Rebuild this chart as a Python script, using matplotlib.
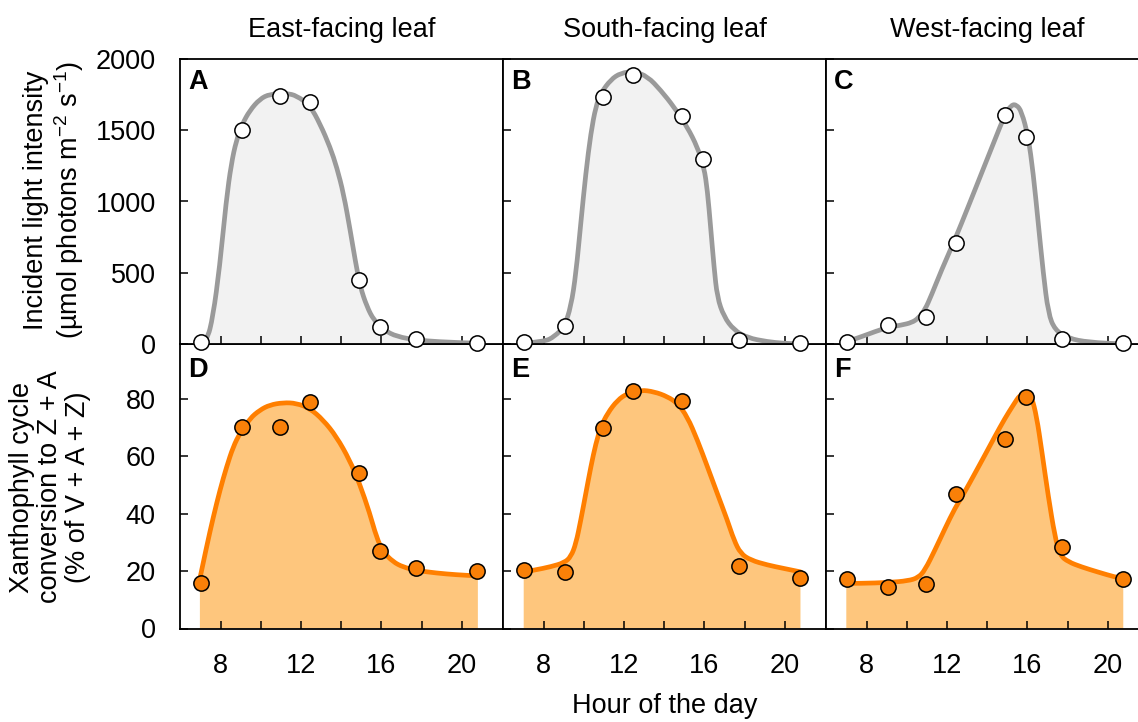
import matplotlib
matplotlib.use('Agg')
import matplotlib.pyplot as plt
from matplotlib.path import Path
from matplotlib.patches import PathPatch
import numpy as np

plt.rcParams['font.family'] = ['Liberation Sans', 'DejaVu Sans']
plt.rcParams['mathtext.fontset'] = 'custom'
plt.rcParams['mathtext.rm'] = 'Liberation Sans'
plt.rcParams['mathtext.it'] = 'Liberation Sans:italic'
plt.rcParams['mathtext.bf'] = 'Liberation Sans:bold'

# Colors
GREY_LINE = '#9a9a9a'
GREY_FILL = '#f2f2f2'
ORANGE_LINE = '#ff7f00'
ORANGE_FILL = '#fec67d'
ORANGE_DOT = '#f98008'

# ---------------- data ----------------
hours = [7.0, 9.08, 10.97, 12.45, 14.9, 15.95, 17.72, 20.78]

light_east = [15, 1505, 1740, 1700, 450, 122, 35, 9]
light_south = [12, 125, 1735, 1885, 1600, 1298, 30, 9]
light_west = [16, 133, 187, 709, 1607, 1455, 33, 9]

xanth_east = [16.0, 70.1, 70.0, 78.9, 54.2, 27.0, 21.2, 19.9]
xanth_south = [20.5, 19.6, 69.8, 82.8, 79.3, np.nan, 21.7, 17.5]
xanth_west = [17.1, 14.6, 15.5, 46.8, 66.1, 80.7, 28.4, 17.1]

# fitted curves
fit_light_east_h = [7.0, 7.32, 7.62, 7.95, 8.28, 8.53, 8.78, 9.08, 9.45, 9.95, 10.45, 11.28,
                    11.78, 12.45, 12.95, 13.45, 13.78, 14.12, 14.45, 14.7, 14.95, 15.28,
                    15.62, 16.12, 16.78, 17.78, 18.78, 20.78]
fit_light_east_v = [0, 20, 192, 538, 1006, 1263, 1427, 1544, 1638, 1719, 1754, 1759,
                    1743, 1673, 1544, 1380, 1240, 1053, 796, 585, 400, 262,
                    168, 98, 51, 28, 16, 5]

fit_light_south_h = [6.97, 8.03, 8.53, 9.03, 9.36, 9.61, 9.85, 10.1, 10.35, 10.6, 10.85, 11.34,
                     11.84, 12.5, 13.17, 13.83, 14.49, 15.15, 15.65, 15.98, 16.15, 16.31,
                     16.48, 16.64, 16.97, 17.47, 18.13, 19.13, 19.95, 20.78]
fit_light_south_v = [5, 16, 51, 122, 262, 497, 848, 1199, 1480, 1668, 1761, 1855,
                     1902, 1913, 1878, 1780, 1663, 1522, 1382, 1241, 1077, 820,
                     539, 328, 192, 98, 44, 16, 5, 0]

fit_light_west_h = [6.99, 7.75, 8.41, 9.08, 9.74, 10.24, 10.57, 10.9, 11.23, 11.73, 12.39,
                    13.06, 13.72, 14.38, 14.88, 15.21, 15.46, 15.71, 16.04, 16.29, 16.54,
                    16.79, 17.04, 17.37, 18.03, 19.03, 20.79]
fit_light_west_v = [16, 51, 87, 117, 133, 150, 180, 239, 344, 520, 731,
                    965, 1199, 1433, 1609, 1679, 1679, 1632, 1456, 1199, 848,
                    497, 215, 98, 40, 12, 0]

fit_xanth_east_h = [6.97, 7.3, 7.64, 7.97, 8.3, 8.63, 8.96, 9.46, 9.95, 10.45, 11.11, 11.77,
                    12.44, 13.1, 13.76, 14.42, 14.91, 15.42, 15.75, 16.08, 16.58, 17.07,
                    17.74, 18.73, 19.72, 20.8]
fit_xanth_east_v = [17.4, 28.4, 38.9, 48.2, 56.3, 63.3, 67.9, 73.1, 76.0, 77.8, 78.6, 78.4,
                    76.6, 72.6, 66.8, 58.6, 50.5, 40.1, 31.9, 26.7, 23.2, 21.4,
                    20.2, 19.3, 18.7, 18.3]

fit_xanth_south_h = [7.01, 7.54, 8.36, 9.03, 9.36, 9.61, 9.85, 10.1, 10.35, 10.6, 10.85, 11.18,
                     11.68, 12.17, 12.83, 13.5, 14.16, 14.66, 15.15, 15.65, 16.15, 16.64,
                     17.14, 17.47, 17.8, 18.3, 19.13, 19.95, 20.78]
fit_xanth_south_v = [19.7, 20.3, 21.5, 22.9, 25.0, 29.6, 37.7, 47.0, 56.3, 64.4, 70.2, 74.9,
                     79.5, 81.8, 83.0, 82.4, 80.7, 78.4, 73.7, 65.6, 56.3, 47.0,
                     37.7, 30.8, 26.1, 23.8, 22.1, 20.9, 19.7]

fit_xanth_west_h = [6.99, 7.75, 9.08, 10.07, 10.57, 10.9, 11.4, 11.9, 12.39, 12.89, 13.39,
                    13.89, 14.38, 14.88, 15.3, 15.63, 15.96, 16.21, 16.46, 16.71, 17.04,
                    17.37, 17.62, 18.03, 18.7, 19.53, 20.36, 20.77]
fit_xanth_west_v = [15.7, 15.7, 16.0, 16.6, 17.7, 20.3, 27.3, 34.8, 41.8, 47.6, 54.0,
                    60.4, 66.8, 73.1, 77.8, 81.3, 82.4, 80.7, 73.7, 62.1, 45.9,
                    32.0, 25.5, 23.2, 21.4, 19.6, 17.9, 17.4]

titles = ['East-facing leaf', 'South-facing leaf', 'West-facing leaf']
letters_top = ['A', 'B', 'C']
letters_bottom = ['D', 'E', 'F']

light = [light_east, light_south, light_west]
xanth = [xanth_east, xanth_south, xanth_west]
fit_light = [(fit_light_east_h, fit_light_east_v), (fit_light_south_h, fit_light_south_v),
             (fit_light_west_h, fit_light_west_v)]
fit_xanth = [(fit_xanth_east_h, fit_xanth_east_v), (fit_xanth_south_h, fit_xanth_south_v),
             (fit_xanth_west_h, fit_xanth_west_v)]

# ---------------- figure ----------------
W, H = 1138, 722
fig = plt.figure(figsize=(W / 100, H / 100), dpi=100)
fig.patch.set_facecolor('white')

FS = 19.5
panel_w = 323
lefts = [180, 503, 826]
top_y0, top_y1 = 59, 344
bot_y0, bot_y1 = 344, 628.5


def px_axes(x0, y0, y1):
    return fig.add_axes([x0 / W, 1 - y1 / H, panel_w / W, (y1 - y0) / H])


def smooth_path(xs, ys):
    # quadratic bezier through segment midpoints, read points act as controls
    pts = list(zip(xs, ys))
    verts = [pts[0]]
    codes = [Path.MOVETO]
    for k in range(1, len(pts) - 1):
        mid = ((pts[k][0] + pts[k + 1][0]) / 2, (pts[k][1] + pts[k + 1][1]) / 2)
        verts += [pts[k], mid]
        codes += [Path.CURVE3, Path.CURVE3]
    verts.append(pts[-1])
    codes.append(Path.LINETO)
    return verts, codes


def draw_curve(ax, xs, ys, line_color, fill_color):
    verts, codes = smooth_path(xs, ys)
    fill_verts = verts + [(xs[-1], 0), (xs[0], 0), (xs[0], ys[0])]
    fill_codes = codes + [Path.LINETO, Path.LINETO, Path.CLOSEPOLY]
    ax.add_patch(PathPatch(Path(fill_verts, fill_codes), facecolor=fill_color,
                           edgecolor='none', zorder=1))
    ax.add_patch(PathPatch(Path(verts, codes), facecolor='none', edgecolor=line_color,
                           lw=3.4, joinstyle='round', capstyle='round', zorder=2))


def style_axes(ax, show_x, show_y):
    for s in ax.spines.values():
        s.set_linewidth(1.3)
    ax.tick_params(which='both', direction='in', length=6, width=1.1,
                   top=False, right=False, labelsize=FS)
    ax.tick_params(axis='y', pad=17.5)
    ax.tick_params(axis='x', pad=17.5)
    ax.set_xlim(5.98, 22.05)
    ax.set_xticks([8, 12, 16, 20])
    ax.set_xticks([10, 14, 18], minor=True)
    if not show_x:
        ax.tick_params(axis='x', labelbottom=False)
    if not show_y:
        ax.tick_params(axis='y', labelleft=False)


for i in range(3):
    # top row: light intensity
    ax = px_axes(lefts[i], top_y0, top_y1)
    ax.set_zorder(3)
    fh, fv = fit_light[i]
    draw_curve(ax, fh, fv, GREY_LINE, GREY_FILL)
    ax.plot(hours, light[i], 'o', ms=11, mfc='white', mec='black', mew=1.1,
            clip_on=False, zorder=5)
    ax.set_ylim(0, 2000)
    ax.set_yticks([0, 500, 1000, 1500, 2000])
    style_axes(ax, False, i == 0)
    ax.text(0.025, 0.965, letters_top[i], transform=ax.transAxes, ha='left', va='top',
            fontsize=FS, fontweight='bold')
    ax.set_title(titles[i], fontsize=FS, pad=16)

    # bottom row: xanthophyll conversion
    ax = px_axes(lefts[i], bot_y0, bot_y1)
    ax.set_zorder(1)
    fh, fv = fit_xanth[i]
    draw_curve(ax, fh, fv, ORANGE_LINE, ORANGE_FILL)
    ax.plot(hours, xanth[i], 'o', ms=11, mfc=ORANGE_DOT, mec='black', mew=1.1,
            clip_on=False, zorder=5)
    ax.set_ylim(0, 99)
    ax.set_yticks([0, 20, 40, 60, 80])
    style_axes(ax, True, i == 0)
    ax.text(0.025, 0.955, letters_bottom[i], transform=ax.transAxes, ha='left', va='top',
            fontsize=FS, fontweight='bold')

fig.text(54.5 / W, 1 - 200 / H,
         'Incident light intensity\n(µmol photons m$^{-2}$ s$^{-1}$)',
         rotation=90, ha='center', va='center', fontsize=FS, linespacing=1.1)
fig.text(50 / W, 1 - 487 / H,
         'Xanthophyll cycle\nconversion to Z + A\n(% of V + A + Z)',
         rotation=90, ha='center', va='center', fontsize=FS, linespacing=1.1)
fig.text(664.5 / W, 1 - 706 / H, 'Hour of the day', ha='center', va='center', fontsize=FS)

plt.savefig('out.png', dpi=100, facecolor='white')
plt.close()
